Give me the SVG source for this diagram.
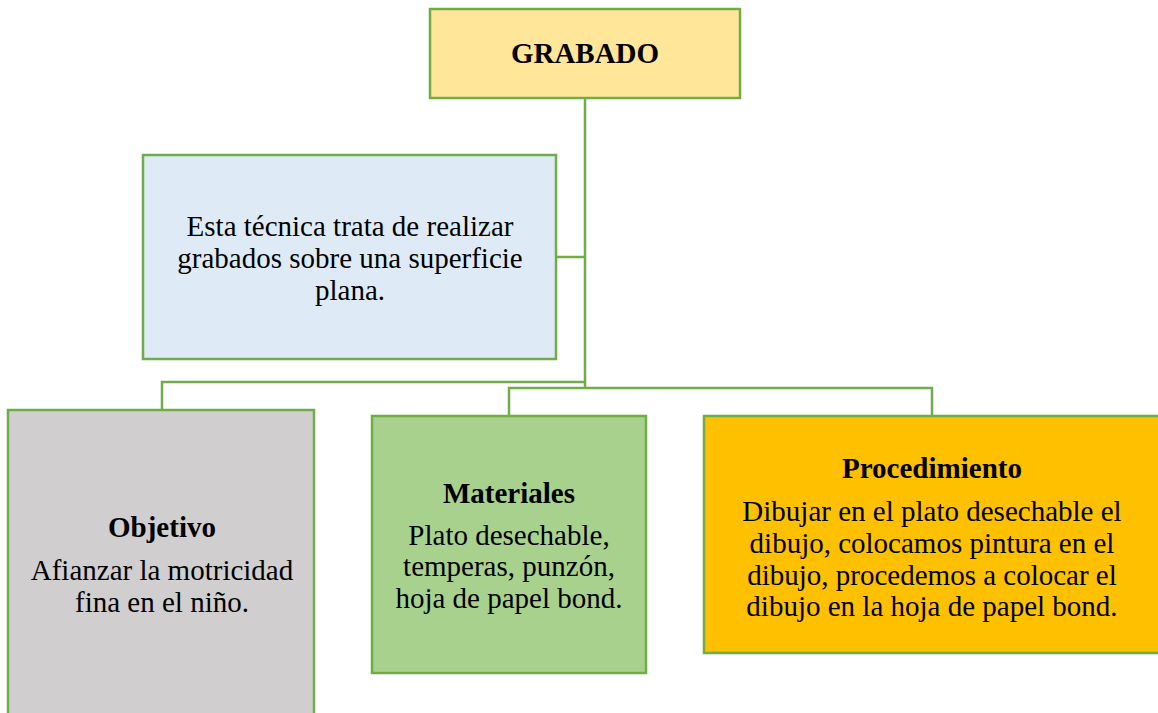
<svg xmlns="http://www.w3.org/2000/svg" width="1158" height="713" viewBox="0 0 1158 713">
<style>
.box{stroke:#70AD47;stroke-width:2.5}
.conn{fill:none;stroke:#70AD47;stroke-width:2.5}
text{font-family:"Liberation Serif","Times New Roman",serif;font-size:29px;fill:#000;text-anchor:middle}
.b{font-weight:bold}
</style>
<rect width="1158" height="713" fill="#fff"/>
<g id="connectors">
<path class="conn" d="M585 98 V388"/>
<path class="conn" d="M556 257 H585"/>
<path class="conn" d="M162 410 V382 H585"/>
<path class="conn" d="M509 416 V388 H932 V416"/>
</g>
<g id="grabado">
<rect class="box" x="430" y="9" width="310" height="89" fill="#FFE699"/>
<text class="b" x="585" y="63">GRABADO</text>
</g>
<g id="descripcion">
<rect class="box" x="143" y="155" width="413" height="204" fill="#DEEBF7"/>
<text x="350" y="236">Esta técnica trata de realizar</text>
<text x="350" y="268">grabados sobre una superficie</text>
<text x="350" y="300">plana.</text>
</g>
<g id="objetivo">
<rect class="box" x="8" y="410" width="306" height="320" fill="#D0CECE"/>
<text class="b" x="162" y="537">Objetivo</text>
<text x="162" y="580">Afianzar la motricidad</text>
<text x="162" y="612">fina en el niño.</text>
</g>
<g id="materiales">
<rect class="box" x="372" y="416" width="274" height="257" fill="#A9D18E"/>
<text class="b" x="509" y="503">Materiales</text>
<text x="509" y="545">Plato desechable,</text>
<text x="509" y="576">temperas, punzón,</text>
<text x="509" y="608">hoja de papel bond.</text>
</g>
<g id="procedimiento">
<rect class="box" x="704" y="416" width="470" height="237" fill="#FFC000"/>
<text class="b" x="932" y="478">Procedimiento</text>
<text x="932" y="521">Dibujar en el plato desechable el</text>
<text x="932" y="553">dibujo, colocamos pintura en el</text>
<text x="932" y="585">dibujo, procedemos a colocar el</text>
<text x="932" y="616">dibujo en la hoja de papel bond.</text>
</g>
</svg>
